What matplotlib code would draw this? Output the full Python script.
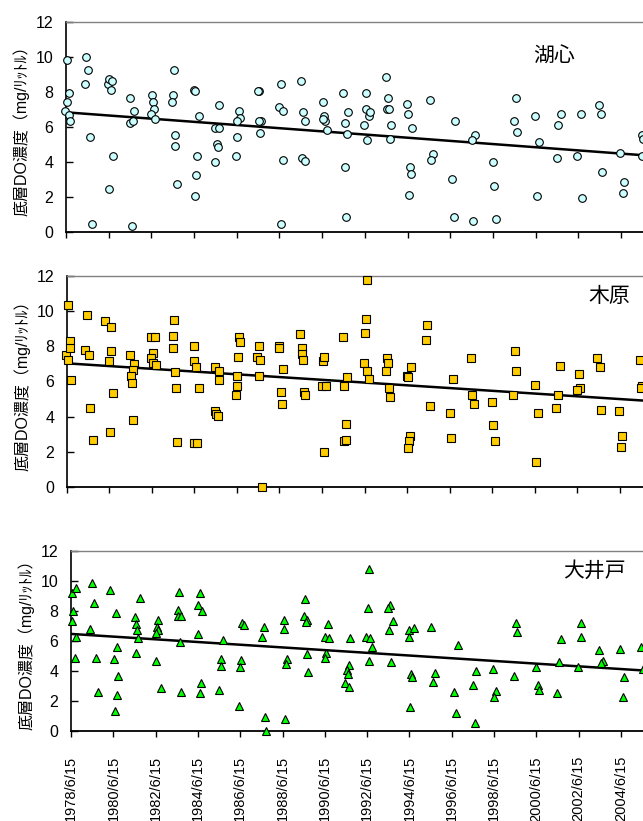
import numpy as np
import matplotlib
matplotlib.use("Agg")
import matplotlib.pyplot as plt

plt.rcParams['font.family'] = ['Liberation Sans', 'Noto Sans CJK JP', 'DejaVu Sans']

# ---- data (decimal year, DO mg/L)
kc_year = [1978.49, 1978.44, 1978.51, 1978.59, 1978.62, 1978.66,
           1979.41, 1979.51, 1979.35, 1979.57, 1979.68,
           1980.41, 1980.46, 1980.63, 1980.57, 1980.66, 1980.48,
           1981.46, 1981.46, 1981.62, 1981.65, 1981.57,
           1982.49, 1982.54, 1982.60, 1982.46, 1982.65,
           1983.51, 1983.48, 1983.44, 1983.55, 1983.59, 1983.66,
           1984.44, 1984.48, 1984.68, 1984.62, 1984.57, 1984.52,
           1985.65, 1985.43, 1985.63, 1985.52, 1985.57, 1985.43,
           1986.54, 1986.63, 1986.49, 1986.48, 1986.43,
           1987.49, 1987.44, 1987.57, 1987.51, 1987.55,
           1988.51, 1988.44, 1988.63, 1988.60, 1988.55,
           1989.48, 1989.55, 1989.63, 1989.49, 1989.66,
           1990.51, 1990.53, 1990.57, 1990.48, 1990.66,
           1991.45, 1991.67, 1991.51, 1991.60, 1991.53, 1991.57,
           1992.51, 1992.53, 1992.65, 1992.68, 1992.43, 1992.57,
           1993.46, 1993.53, 1993.48, 1993.57, 1993.66, 1993.63,
           1994.44, 1994.47, 1994.64, 1994.56, 1994.60, 1994.50,
           1995.49, 1995.66, 1995.54,
           1996.68, 1996.52, 1996.62,
           1997.59, 1997.45, 1997.51,
           1998.45, 1998.49, 1998.60,
           1999.52, 1999.43, 1999.60,
           2000.59, 2000.43, 2000.51,
           2001.62, 2001.51, 2001.43,
           2002.57, 2002.41, 2002.60,
           2003.43, 2003.51, 2003.57,
           2004.41, 2004.57, 2004.52,
           2005.45, 2005.41, 2005.50]
kc_do = [9.83, 6.93, 7.45, 7.92, 6.69, 6.36,
         10.02, 9.24, 8.46, 5.43, 0.46,
         8.46, 8.74, 8.63, 8.11, 4.34, 2.44,
         7.64, 6.21, 6.36, 6.93, 0.34,
         7.83, 7.41, 7.03, 6.74, 6.46,
         9.24, 7.83, 7.45, 5.54, 4.93, 2.74,
         8.11, 8.06, 6.65, 4.34, 3.24, 2.04,
         7.26, 5.94, 5.94, 5.05, 4.84, 4.02,
         6.93, 6.53, 6.36, 5.43, 4.34,
         8.06, 8.06, 6.36, 6.36, 5.64,
         8.46, 7.16, 6.93, 4.13, 0.46,
         8.63, 6.84, 6.36, 4.25, 4.04,
         7.45, 6.65, 6.36, 6.46, 5.85,
         7.94, 6.84, 6.23, 5.60, 3.73, 0.84,
         7.94, 7.03, 6.65, 6.84, 6.13, 5.24,
         8.84, 7.64, 7.03, 7.03, 6.13, 5.33,
         7.33, 6.74, 5.94, 3.73, 3.33, 2.13,
         7.54, 4.44, 4.13,
         6.34, 3.03, 0.84,
         5.54, 5.24, 0.65,
         4.02, 2.65, 0.74,
         7.64, 6.34, 5.73,
         5.14, 6.65, 2.04,
         6.74, 6.13, 4.25,
         6.74, 4.34, 1.94,
         7.24, 6.74, 3.45,
         4.53, 2.84, 2.25,
         5.54, 4.34, 5.30]

kb_year = [1978.49, 1978.41, 1978.52, 1978.59, 1978.62, 1978.66,
           1979.40, 1979.32, 1979.48, 1979.53, 1979.67,
           1980.26, 1980.55, 1980.42, 1980.53, 1980.62, 1980.47,
           1981.44, 1981.63, 1981.58, 1981.47, 1981.50, 1981.57,
           1982.43, 1982.59, 1982.51, 1982.43, 1982.52, 1982.65,
           1983.43, 1983.50, 1983.46, 1983.54, 1983.59, 1983.65,
           1984.45, 1984.42, 1984.55, 1984.66, 1984.45, 1984.58,
           1985.44, 1985.42, 1985.49, 1985.57, 1985.61, 1985.60,
           1986.55, 1986.62, 1986.52, 1986.48, 1986.46, 1986.41,
           1987.48, 1987.42, 1987.56, 1987.51, 1987.61,
           1988.45, 1988.42, 1988.62, 1988.53, 1988.58,
           1989.44, 1989.49, 1989.52, 1989.57, 1989.60, 1989.64,
           1990.49, 1990.54, 1990.46, 1990.62, 1990.54,
           1991.43, 1991.64, 1991.48, 1991.56, 1991.51, 1991.59,
           1992.55, 1992.52, 1992.47, 1992.42, 1992.59, 1992.66,
           1993.50, 1993.55, 1993.47, 1993.60, 1993.64,
           1994.65, 1994.43, 1994.48, 1994.57, 1994.54, 1994.49,
           1995.41, 1995.35, 1995.52,
           1996.62, 1996.48, 1996.53,
           1997.44, 1997.52, 1997.58,
           1998.44, 1998.51, 1998.57,
           1999.52, 1999.58, 1999.42,
           2000.45, 2000.60, 2000.53,
           2001.63, 2001.55, 2001.46,
           2002.54, 2002.56, 2002.42,
           2003.40, 2003.50, 2003.56,
           2004.41, 2004.58, 2004.53,
           2005.41, 2005.52, 2005.44]
kb_do = [10.34, 7.50, 7.22, 8.30, 7.92, 6.09,
         9.74, 7.79, 7.50, 4.48, 2.68,
         9.43, 9.11, 7.13, 7.73, 5.31, 3.10,
         7.50, 7.01, 6.65, 6.33, 5.92, 3.78,
         8.54, 8.54, 7.60, 7.32, 7.03, 6.94,
         8.60, 9.49, 7.92, 6.52, 5.61, 2.57,
         8.03, 7.13, 6.82, 5.61, 2.50, 2.50,
         6.84, 4.33, 4.14, 4.01, 6.56, 6.09,
         8.54, 8.22, 7.41, 6.31, 5.71, 5.22,
         8.01, 7.41, 7.22, 6.33, 0.00,
         8.03, 7.92, 6.71, 5.41, 4.73,
         8.71, 7.88, 7.54, 7.22, 5.41, 5.22,
         7.13, 7.41, 5.71, 5.71, 1.98,
         8.51, 6.22, 5.71, 3.59, 2.63, 2.68,
         11.74, 9.53, 8.73, 7.03, 6.60, 6.12,
         7.32, 7.03, 6.60, 5.60, 5.10,
         6.82, 6.31, 6.22, 2.87, 2.63, 2.19,
         9.22, 8.32, 4.61,
         6.11, 4.20, 2.80,
         7.32, 5.22, 4.71,
         4.82, 3.50, 2.59,
         7.73, 6.60, 5.22,
         5.80, 4.20, 1.40,
         6.90, 5.22, 4.50,
         6.41, 5.61, 5.52,
         7.32, 6.82, 4.40,
         4.29, 2.91, 2.29,
         7.20, 5.71, 5.61]

oi_year = [1978.49, 1978.67, 1978.55, 1978.48, 1978.70, 1978.62,
           1979.46, 1979.54, 1979.36, 1979.61, 1979.71,
           1980.29, 1980.56, 1980.61, 1980.48, 1980.69, 1980.64, 1980.53,
           1981.46, 1981.50, 1981.56, 1981.62, 1981.51, 1981.69,
           1982.57, 1982.52, 1982.57, 1982.46, 1982.49, 1982.70,
           1983.57, 1983.49, 1983.49, 1983.63, 1983.60, 1983.66,
           1984.56, 1984.47, 1984.66, 1984.44, 1984.61, 1984.53,
           1985.62, 1985.56, 1985.53, 1985.46,
           1986.55, 1986.63, 1986.51, 1986.46, 1986.41,
           1987.57, 1987.47, 1987.63, 1987.66,
           1988.50, 1988.53, 1988.64, 1988.63, 1988.56,
           1989.51, 1989.48, 1989.62, 1989.56, 1989.59, 1989.67,
           1990.59, 1990.46, 1990.65, 1990.51, 1990.46,
           1991.66, 1991.58, 1991.50, 1991.53, 1991.41, 1991.61,
           1992.53, 1992.49, 1992.42, 1992.61, 1992.67, 1992.56,
           1993.54, 1993.45, 1993.67, 1993.50, 1993.58,
           1994.45, 1994.67, 1994.43, 1994.54, 1994.57, 1994.50,
           1995.49, 1995.65, 1995.56,
           1996.73, 1996.57, 1996.65,
           1997.59, 1997.47, 1997.53,
           1998.40, 1998.54, 1998.46,
           1999.49, 1999.54, 1999.40,
           2000.44, 2000.52, 2000.60,
           2001.61, 2001.53, 2001.43,
           2002.58, 2002.57, 2002.42,
           2003.40, 2003.59, 2003.53,
           2004.39, 2004.58, 2004.53,
           2005.42, 2005.50]
oi_do = [9.21, 9.49, 8.00, 7.32, 6.28, 4.88,
         9.87, 8.54, 6.77, 4.88, 2.57,
         9.38, 7.87, 5.57, 4.77, 3.68, 2.40, 1.35,
         7.61, 7.10, 6.72, 6.17, 5.17, 8.87,
         7.39, 6.94, 6.72, 6.50, 4.68, 2.88,
         9.27, 8.05, 7.65, 7.65, 5.90, 2.57,
         9.16, 8.39, 8.00, 6.46, 3.17, 2.51,
         6.06, 4.77, 4.33, 2.73,
         7.21, 7.05, 4.70, 4.28, 1.69,
         6.90, 6.28, 0.95, 0.00,
         7.39, 6.77, 4.79, 4.46, 0.80,
         8.78, 7.65, 7.39, 7.28, 5.12, 3.90,
         7.10, 6.28, 6.21, 5.17, 4.88,
         6.17, 4.39, 4.06, 3.79, 3.17, 2.95,
         10.78, 8.16, 6.28, 6.17, 5.57, 4.68,
         8.39, 8.20, 7.32, 6.72, 4.57,
         6.72, 6.83, 6.28, 3.79, 3.59, 1.58,
         6.90, 3.88, 3.28,
         5.70, 2.57, 1.18,
         3.99, 3.08, 0.51,
         4.10, 2.66, 2.28,
         7.21, 6.57, 3.68,
         4.28, 3.06, 2.73,
         6.10, 4.61, 2.55,
         7.21, 6.28, 4.28,
         5.39, 4.68, 4.50,
         5.43, 3.59, 2.28,
         5.61, 4.10]

stations = ['湖心', '木原', '大井戸']
tick_years = list(range(1978, 2005, 2))
tick_labels = ['%d/6/15' % y for y in tick_years]

W, H = 643, 821
fig = plt.figure(figsize=(W / 100, H / 100), dpi=100)

# (left px, top px, bottom px, px per year)
boxes = [(65.7, 22.0, 232.0, 21.36),
         (66.7, 275.7, 487.0, 21.27),
         (71.0, 550.7, 731.0, 21.15)]
x0, x1 = 1978.45, 2006.45
series = [(kc_year, kc_do, 'o', '#CCFFFF'),
          (kb_year, kb_do, 's', '#FFCC00'),
          (oi_year, oi_do, '^', '#00FF00')]
title_pos = [(554, 57), (609, 296), (594, 571)]

for i, (box, (xs, ys, mk, col)) in enumerate(zip(boxes, series)):
    left, top, bot, ppy = box
    wpx = (x1 - x0) * ppy
    ax = fig.add_axes([left / W, (H - bot) / H, wpx / W, (bot - top) / H])
    ax.set_xlim(x0, x1)
    ax.set_ylim(0, 12)

    ax.plot(xs, ys, linestyle='none', marker=mk, markersize=5.5 if mk != '^' else 6,
            markerfacecolor=col, markeredgecolor='black', markeredgewidth=0.8,
            clip_on=False, zorder=4)

    # linear trend (Excel style)
    k, b = np.polyfit(xs, ys, 1)
    tx = np.array([x0, x1])
    ax.plot(tx, k * tx + b, color='black', linewidth=1.8, zorder=3)

    ax.set_yticks(range(0, 13, 2))
    ax.tick_params(axis='y', direction='in', length=5, width=1, pad=9, labelsize=11.5)
    ax.set_xticks([y + 0.454 for y in tick_years])
    ax.tick_params(axis='x', direction='out', length=4, width=1, pad=14)
    if i == 2:
        ax.set_xticklabels(tick_labels, rotation=90, fontsize=10.5)
    else:
        ax.set_xticklabels([])

    ax.spines['right'].set_visible(False)
    ax.spines['top'].set_color('#808080')
    ax.spines['top'].set_linewidth(1.0)
    ax.spines['left'].set_linewidth(1.2)
    ax.spines['bottom'].set_linewidth(1.3)

    ax.set_ylabel('底層DO濃度（mg/ﾘｯﾄﾙ）', fontsize=11.5)
    ax.yaxis.set_label_coords(-36.0 / wpx, 0.5)

    tx_, ty_ = title_pos[i]
    fig.text(tx_ / W, 1 - ty_ / H, stations[i], fontsize=15,
             ha='center', va='center')

fig.savefig('out.png', dpi=100)
